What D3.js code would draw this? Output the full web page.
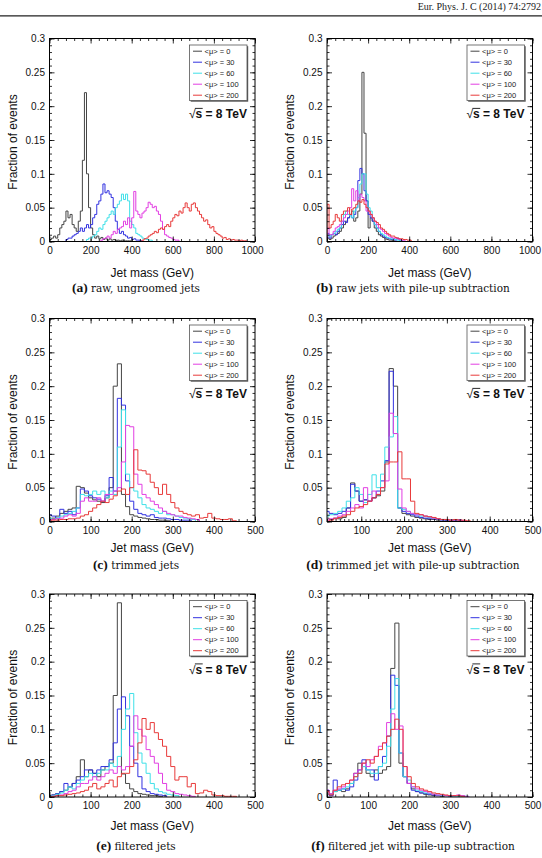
<!DOCTYPE html>
<html>
<head>
<meta charset="utf-8">
<script src="https://cdn.jsdelivr.net/npm/d3@7"></script>
<style>
  body { margin: 0; background: #fff; }
  svg text { font-family: "Liberation Sans", Arial, sans-serif; }
</style>
</head>
<body>
<svg id="fig" width="542" height="858"></svg>
<script>

// ---- data: fraction of events per 10 GeV bin ----
const muLabels = ["<μ> = 0", "<μ> = 30", "<μ> = 60", "<μ> = 100", "<μ> = 200"];
const lineColors = ["#454545", "#3232e0", "#3ee0e8", "#e23ee2", "#e83a3a"];
const yTicks = [0, 0.05, 0.1, 0.15, 0.2, 0.25, 0.3];

// (a) raw jets, bins start at rawAStart (GeV)
const rawAStart = [0, 80, 180, 250, 450];
const rawA0 = [0.003,0.005,0.008,0.005,0.01,0.02,0.025,0.03,0.045,0.035, 0.04,0.025,0.02,0.015,0.03,0.045,0.12,0.22,0.1,0.05, 0.02,0.01,0.005,0.008,0.004,0.006,0.003,0.005,0.002,0.004, 0.002,0.003,0.001,0.002,0.001,0.002,0.001,0.001,0.001,0.001];
const rawA30 = [0.003,0.005,0.005,0.008,0.01,0.012,0.015,0.02,0.015,0.02, 0.025,0.02,0.025,0.035,0.04,0.055,0.06,0.07,0.085,0.072, 0.075,0.07,0.065,0.05,0.03,0.018,0.012,0.015,0.01,0.008, 0.005,0.006,0.003,0.004,0.002,0.002,0.001];
const rawA60 = [0.003,0.005,0.005,0.008,0.01,0.015,0.02,0.018,0.025,0.03, 0.035,0.04,0.045,0.04,0.05,0.055,0.06,0.07,0.062,0.07, 0.06,0.03,0.025,0.02,0.012,0.01,0.008,0.005,0.004,0.003, 0.002,0.002];
const rawA100 = [0.002,0.004,0.005,0.008,0.005,0.01,0.015,0.012,0.018,0.02, 0.022,0.03,0.025,0.035,0.02,0.035,0.074,0.045,0.04,0.035, 0.042,0.045,0.05,0.058,0.055,0.05,0.052,0.045,0.04,0.03, 0.018,0.01,0.008,0.006,0.005,0.003,0.002,0.002];
const rawA200 = [0.002,0.004,0.005,0.008,0.01,0.012,0.015,0.013,0.018,0.02, 0.018,0.022,0.025,0.022,0.03,0.035,0.04,0.038,0.045,0.042, 0.05,0.057,0.05,0.045,0.055,0.057,0.05,0.045,0.04,0.035, 0.03,0.032,0.025,0.02,0.022,0.015,0.012,0.01,0.008,0.005, 0.006,0.003,0.004,0.002,0.003,0.002,0.002,0.001,0.002,0.001, 0.001];

// (b) raw jets with pile-up subtraction, bins from 0 GeV
const subB0 = [0.005,0.003,0.005,0.008,0.01,0.012,0.015,0.02,0.025,0.03, 0.035,0.04,0.045,0.03,0.035,0.045,0.07,0.25,0.16,0.06, 0.02,0.035,0.03,0.02,0.015,0.01,0.008,0.006,0.004,0.003, 0.002,0.002,0.001];
const subB30 = [0.012,0.005,0.01,0.012,0.01,0.015,0.02,0.025,0.03,0.028, 0.035,0.04,0.035,0.04,0.05,0.09,0.108,0.1,0.075,0.06, 0.04,0.035,0.03,0.025,0.02,0.015,0.01,0.008,0.006,0.005, 0.004,0.003,0.004,0.002,0.005,0.002,0.001];
const subB60 = [0.01,0.008,0.01,0.012,0.015,0.018,0.02,0.03,0.04,0.045, 0.04,0.038,0.035,0.045,0.05,0.065,0.085,0.1,0.1,0.07, 0.05,0.045,0.035,0.025,0.02,0.015,0.012,0.01,0.008,0.006, 0.005,0.004,0.003,0.003,0.002,0.002];
const subB100 = [0.02,0.01,0.01,0.015,0.02,0.022,0.025,0.03,0.035,0.04, 0.045,0.05,0.078,0.06,0.075,0.06,0.07,0.065,0.06,0.045, 0.045,0.04,0.035,0.03,0.025,0.02,0.018,0.015,0.012,0.01, 0.008,0.006,0.005,0.005,0.004,0.003,0.002,0.002];
const subB200 = [0.055,0.02,0.025,0.03,0.04,0.035,0.03,0.04,0.045,0.045, 0.05,0.04,0.048,0.05,0.055,0.06,0.058,0.062,0.055,0.05, 0.045,0.04,0.035,0.03,0.028,0.025,0.02,0.018,0.015,0.012, 0.01,0.008,0.008,0.006,0.005,0.004,0.004,0.003,0.003,0.002, 0.002];

// (c) trimmed jets, bins centred on 0, 10, 20 ... GeV
const trimC0 = [0.003,0.005,0.008,0.012,0.015,0.018,0.02,0.052,0.05,0.042, 0.035,0.032,0.03,0.028,0.035,0.05,0.2,0.233,0.04,0.022, 0.01,0.008,0.006,0.005,0.004,0.003,0.003,0.002,0.002,0.001];
const trimC30 = [0.01,0.008,0.005,0.018,0.012,0.015,0.01,0.02,0.048,0.045, 0.038,0.035,0.033,0.03,0.038,0.065,0.045,0.182,0.172,0.06, 0.03,0.018,0.012,0.01,0.008,0.01,0.006,0.005,0.005,0.004, 0.003,0.003,0.002,0.002,0.002];
const trimC60 = [0.005,0.003,0.005,0.008,0.01,0.012,0.015,0.02,0.04,0.038, 0.04,0.045,0.04,0.045,0.035,0.045,0.04,0.11,0.165,0.07, 0.05,0.045,0.035,0.025,0.02,0.018,0.015,0.012,0.015,0.01, 0.01,0.008,0.006,0.005,0.004,0.003];
const trimC100 = [0.002,0.003,0.004,0.005,0.008,0.01,0.008,0.012,0.03,0.035, 0.03,0.03,0.035,0.03,0.04,0.04,0.045,0.05,0.088,0.142, 0.14,0.07,0.055,0.04,0.035,0.03,0.025,0.02,0.015,0.012, 0.01,0.008,0.008,0.006,0.005,0.004,0.003];
const trimC200 = [0,0.002,0.002,0.003,0.003,0.004,0.004,0.005,0.008,0.01, 0.015,0.02,0.025,0.03,0.028,0.033,0.038,0.045,0.048,0.04, 0.05,0.106,0.076,0.075,0.07,0.058,0.05,0.04,0.055,0.04, 0.028,0.02,0.015,0.012,0.01,0.008,0.01,0.005,0.006,0.012, 0.005,0.004,0.003,0.003,0.004,0.001];

// (d) trimmed jets with pile-up subtraction, bins centred on 20, 30 ... GeV
const trimD0 = [0.005,0.003,0.005,0.004,0.006,0.02,0.057,0.045,0.03,0.032, 0.03,0.035,0.038,0.045,0.088,0.226,0.2,0.02,0.012,0.01, 0.008,0.006,0.005,0.004,0.003,0.003,0.002,0.003,0.002,0.002, 0.001,0.002];
const trimD30 = [0.015,0.012,0.01,0.012,0.015,0.02,0.055,0.045,0.03,0.032, 0.03,0.035,0.045,0.06,0.09,0.222,0.13,0.02,0.015,0.012, 0.01,0.008,0.006,0.005,0.004,0.004,0.003,0.002,0.002,0.002, 0.001,0.002];
const trimD60 = [0.008,0.01,0.012,0.015,0.02,0.03,0.035,0.05,0.04,0.028, 0.04,0.069,0.05,0.07,0.11,0.125,0.155,0.02,0.018,0.015, 0.012,0.01,0.008,0.008,0.006,0.005,0.004,0.003,0.003,0.002, 0.002,0.001];
const trimD100 = [0.002,0.004,0.005,0.008,0.01,0.015,0.02,0.025,0.02,0.05, 0.03,0.045,0.04,0.05,0.06,0.16,0.13,0.048,0.02,0.015, 0.012,0.01,0.01,0.008,0.007,0.005,0.004,0.003,0.003,0.002, 0.002,0.002,0.001];
const trimD200 = [0,0.002,0.004,0.006,0.008,0.01,0.015,0.02,0.022,0.025, 0.03,0.035,0.04,0.05,0.085,0.088,0.088,0.103,0.063,0.063, 0.03,0.012,0.01,0.008,0.007,0.006,0.004,0.003,0.003,0.002, 0.003,0.002,0.002,0.001];

// (e) filtered jets, bins centred on 0, 10, 20 ... GeV
const filtE0 = [0.002,0.003,0.005,0.008,0.01,0.015,0.02,0.03,0.055,0.03, 0.04,0.035,0.03,0.04,0.045,0.05,0.15,0.287,0.034,0.02, 0.012,0.008,0.005,0.004,0.003,0.002,0.002,0.001];
const filtE30 = [0.001,0.003,0.005,0.008,0.02,0.015,0.02,0.025,0.03,0.04, 0.04,0.035,0.04,0.045,0.045,0.055,0.08,0.13,0.148,0.12, 0.075,0.05,0.03,0.012,0.008,0.005,0.004,0.003,0.002];
const filtE60 = [0.001,0.002,0.004,0.006,0.01,0.015,0.012,0.02,0.025,0.03, 0.035,0.03,0.035,0.04,0.04,0.05,0.045,0.06,0.1,0.13, 0.153,0.095,0.065,0.05,0.035,0.02,0.012,0.008,0.006,0.004, 0.003,0.002];
const filtE100 = [0,0.001,0.002,0.003,0.005,0.008,0.01,0.015,0.02,0.02, 0.025,0.03,0.025,0.03,0.035,0.04,0.035,0.045,0.04,0.045, 0.075,0.12,0.1,0.09,0.07,0.06,0.05,0.035,0.02,0.01, 0.008,0.005,0.004,0.003,0.002,0.001];
const filtE200 = [0,0.001,0.002,0.002,0.003,0.004,0.005,0.006,0.008,0.01, 0.015,0.02,0.012,0.015,0.02,0.025,0.015,0.03,0.035,0.035, 0.045,0.055,0.08,0.116,0.1,0.11,0.095,0.085,0.075,0.06, 0.045,0.025,0.03,0.03,0.015,0.02,0.005,0.006,0.01,0.008, 0.003,0.002,0.002,0.001,0.001,0.001];

// (f) filtered jets with pile-up subtraction, bins centred on 0, 10, 20 ... GeV
const filtF0 = [0.005,0.003,0.008,0.01,0.008,0.012,0.02,0.035,0.05,0.045, 0.035,0.03,0.04,0.035,0.04,0.045,0.19,0.257,0.05,0.03, 0.02,0.012,0.008,0.006,0.004,0.003,0.002,0.002,0.001];
const filtF30 = [0.01,0.002,0.025,0.01,0.012,0.01,0.015,0.025,0.04,0.055, 0.04,0.04,0.025,0.045,0.06,0.09,0.18,0.165,0.065,0.03, 0.02,0.01,0.008,0.006,0.005,0.004,0.003,0.002,0.002,0.002, 0.001];
const filtF60 = [0.005,0.005,0.008,0.01,0.012,0.015,0.02,0.03,0.035,0.045, 0.04,0.035,0.035,0.045,0.05,0.075,0.13,0.175,0.065,0.03, 0.025,0.015,0.01,0.008,0.006,0.005,0.004,0.003,0.002,0.002, 0.002,0.001,0.001,0.002,0.001];
const filtF100 = [0.01,0.005,0.01,0.012,0.015,0.02,0.025,0.035,0.04,0.05, 0.045,0.055,0.06,0.075,0.08,0.11,0.123,0.1,0.105,0.045, 0.02,0.015,0.012,0.01,0.008,0.006,0.004,0.003,0.003,0.002, 0.002,0.002,0.003,0.002,0.001];
const filtF200 = [0.008,0.003,0.01,0.015,0.018,0.02,0.025,0.03,0.035,0.05, 0.055,0.05,0.06,0.07,0.08,0.09,0.1,0.115,0.1,0.045, 0.03,0.02,0.015,0.012,0.01,0.008,0.006,0.005,0.004,0.003, 0.002,0.002,0.002,0.001];

const panels = [
  { letter: "(a)", caption: "raw, ungroomed jets", col: 0, row: 0, xDom: [0, 1000],
    xTicks: [0, 200, 400, 600, 800, 1000], minor: 40, starts: rawAStart,
    series: [rawA0, rawA30, rawA60, rawA100, rawA200] },
  { letter: "(b)", caption: "raw jets with pile-up subtraction", col: 1, row: 0, xDom: [0, 1000],
    xTicks: [0, 200, 400, 600, 800, 1000], minor: 40, starts: [0, 0, 0, 0, 0],
    series: [subB0, subB30, subB60, subB100, subB200] },
  { letter: "(c)", caption: "trimmed jets", col: 0, row: 1, xDom: [0, 500],
    xTicks: [0, 100, 200, 300, 400, 500], minor: 20, starts: [-5, -5, -5, -5, -5],
    series: [trimC0, trimC30, trimC60, trimC100, trimC200] },
  { letter: "(d)", caption: "trimmed jet with pile-up subtraction", col: 1, row: 1, xDom: [20, 500],
    xTicks: [100, 200, 300, 400, 500], minor: 10, starts: [15, 15, 15, 15, 15],
    series: [trimD0, trimD30, trimD60, trimD100, trimD200] },
  { letter: "(e)", caption: "filtered jets", col: 0, row: 2, xDom: [0, 500],
    xTicks: [0, 100, 200, 300, 400, 500], minor: 20, starts: [-5, -5, -5, -5, -5],
    series: [filtE0, filtE30, filtE60, filtE100, filtE200] },
  { letter: "(f)", caption: "filtered jet with pile-up subtraction", col: 1, row: 2, xDom: [0, 500],
    xTicks: [0, 100, 200, 300, 400, 500], minor: 20, starts: [-5, -5, -5, -5, -5],
    series: [filtF0, filtF30, filtF60, filtF100, filtF200] }
];

// ---- layout ----
const colX = [[49.5, 255], [327, 532.5]];
const colMid = [136, 413];
const yTitleX = [12.5, 290];
const rowTop = [38.5, 318.5, 594];
const plotH = 203;
const xTitleY = [277, 551.5, 829.5];
const captionY = [291.5, 569, 850];
const binW = 10;

const svg = d3.select("#fig");

// journal header
svg.append("text")
  .attr("x", 541).attr("y", 10)
  .attr("text-anchor", "end")
  .style("font-family", "'Liberation Serif', serif")
  .style("font-size", "10px")
  .attr("fill", "#222")
  .text("Eur. Phys. J. C (2014) 74:2792");
svg.append("line")
  .attr("x1", 0).attr("x2", 542).attr("y1", 15.8).attr("y2", 15.8)
  .attr("stroke", "#222").attr("stroke-width", 1.3);

function stepPath(vals, start, x, y) {
  let p = `M${x(start)},${y(0)}`;
  vals.forEach((v, i) => { p += `V${y(v)}H${x(start + (i + 1) * binW)}`; });
  return p + `V${y(0)}`;
}

const fmtY = d => d === 0 ? "0" : String(+d.toFixed(2));

panels.forEach((pn, k) => {
  const [x0, x1] = colX[pn.col];
  const top = rowTop[pn.row];
  const bottom = top + plotH;

  const x = d3.scaleLinear().domain(pn.xDom).range([x0, x1]);
  const y = d3.scaleLinear().domain([0, 0.3]).range([bottom, top]);

  const clipId = `clip${k}`;
  svg.append("clipPath").attr("id", clipId)
    .append("rect").attr("x", x0).attr("y", top).attr("width", x1 - x0).attr("height", plotH);

  // histograms
  const g = svg.append("g").attr("clip-path", `url(#${clipId})`);
  pn.series.forEach((vals, i) => {
    g.append("path")
      .attr("d", stepPath(vals, pn.starts[i], x, y))
      .attr("fill", "none")
      .attr("stroke", lineColors[i])
      .attr("stroke-width", 1);
  });

  // minor / major ticks on all four sides (ROOT style, inside)
  const minorX = d3.range(Math.ceil(pn.xDom[0] / pn.minor) * pn.minor, pn.xDom[1] + 0.1, pn.minor);
  const minorY = d3.range(0, 0.3001, 0.01);
  const addAxis = (axis, tf) => svg.append("g").attr("transform", tf).call(axis)
    .call(a => a.select(".domain").remove())
    .call(a => a.selectAll("line").attr("stroke", "#000").attr("stroke-width", 0.8));

  addAxis(d3.axisBottom(x).tickValues(minorX).tickSize(-2.5).tickFormat(""), `translate(0,${bottom})`);
  addAxis(d3.axisTop(x).tickValues(minorX).tickSize(-2.5).tickFormat(""), `translate(0,${top})`);
  addAxis(d3.axisTop(x).tickValues(pn.xTicks).tickSize(-5).tickFormat(""), `translate(0,${top})`);
  addAxis(d3.axisLeft(y).tickValues(minorY).tickSize(-2.5).tickFormat(""), `translate(${x0},0)`);
  addAxis(d3.axisRight(y).tickValues(minorY).tickSize(-2.5).tickFormat(""), `translate(${x1},0)`);
  addAxis(d3.axisRight(y).tickValues(yTicks).tickSize(-5).tickFormat(""), `translate(${x1},0)`);

  const xa = addAxis(d3.axisBottom(x).tickValues(pn.xTicks).tickSize(-5).tickPadding(5).tickFormat(d3.format("d")),
    `translate(0,${bottom})`);
  xa.selectAll("text").style("font-size", "10px").attr("fill", "#111")
    .style("font-family", "'Liberation Sans', Arial, sans-serif")
    .attr("dx", d => d >= 1000 ? -3 : 0);
  const ya = addAxis(d3.axisLeft(y).tickValues(yTicks).tickSize(-5).tickPadding(4.5).tickFormat(fmtY), `translate(${x0},0)`);
  ya.selectAll("text").style("font-size", "10px").attr("fill", "#111")
    .style("font-family", "'Liberation Sans', Arial, sans-serif");

  // frame
  svg.append("rect")
    .attr("x", x0).attr("y", top).attr("width", x1 - x0).attr("height", plotH)
    .attr("fill", "none").attr("stroke", "#000").attr("stroke-width", 1);

  // axis titles
  svg.append("text")
    .attr("x", (x0 + x1) / 2).attr("y", xTitleY[pn.row])
    .attr("text-anchor", "middle")
    .style("font-size", "12px").attr("fill", "#111")
    .text("Jet mass (GeV)");
  svg.append("text")
    .attr("transform", `translate(${yTitleX[pn.col]},${(top + bottom) / 2 + 2}) rotate(-90)`)
    .attr("text-anchor", "middle").attr("dy", "0.36em")
    .style("font-size", "12px").attr("fill", "#111")
    .text("Fraction of events");

  // legend
  const lw = 57.5, lh = 55.5;
  const lx = x1 - 8 - lw, ly = top + 6.5;
  svg.append("rect").attr("x", lx + 1.2).attr("y", ly + 1.2).attr("width", lw).attr("height", lh)
    .attr("fill", "#555");
  svg.append("rect").attr("x", lx).attr("y", ly).attr("width", lw).attr("height", lh)
    .attr("fill", "#fff").attr("stroke", "#555").attr("stroke-width", 0.8);
  muLabels.forEach((lab, i) => {
    const yy = ly + 6.2 + i * 11;
    svg.append("line").attr("x1", lx + 3.5).attr("x2", lx + 12.5).attr("y1", yy).attr("y2", yy)
      .attr("stroke", lineColors[i]).attr("stroke-width", 1);
    svg.append("text").attr("x", lx + 15).attr("y", yy).attr("dy", "0.35em")
      .style("font-size", "7.5px").attr("fill", "#222").text(lab);
  });

  // sqrt(s) label
  const st = svg.append("text")
    .attr("x", x1 - 8).attr("y", top + 79.5)
    .attr("text-anchor", "end")
    .style("font-size", "12px").style("font-weight", "bold").attr("fill", "#111");
  st.append("tspan").style("font-weight", "normal").text("√");
  st.append("tspan").text("s = 8 TeV");
  const ext = st.node().getExtentOfChar(1);
  const rad = st.node().getExtentOfChar(0);
  svg.append("line")
    .attr("x1", rad.x + rad.width - 0.6).attr("x2", ext.x + ext.width + 0.5)
    .attr("y1", ext.y + 1.4).attr("y2", ext.y + 1.4)
    .attr("stroke", "#111").attr("stroke-width", 0.9);

  // caption
  const cap = svg.append("text")
    .attr("x", colMid[pn.col]).attr("y", captionY[pn.row])
    .attr("text-anchor", "middle").attr("fill", "#111");
  cap.append("tspan").style("font-family", "'Liberation Serif', serif")
    .style("font-weight", "bold").style("font-size", "13.5px").text(pn.letter + " ");
  cap.append("tspan").style("font-family", "'DejaVu Serif', serif")
    .style("font-size", "10.5px").text(pn.caption);
});

</script>
</body>
</html>
